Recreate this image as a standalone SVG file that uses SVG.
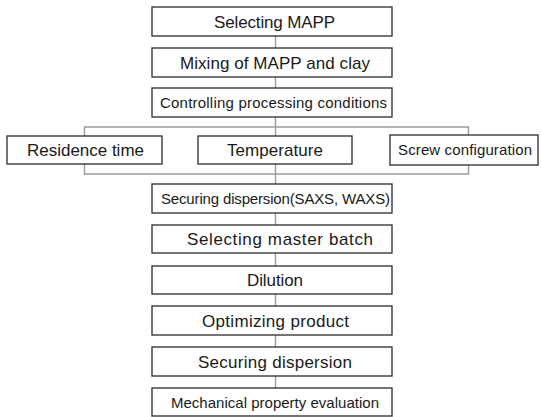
<svg xmlns="http://www.w3.org/2000/svg" width="542" height="417" viewBox="0 0 542 417">
  <style>
    .box { fill: #ffffff; stroke: #3a3a3a; stroke-width: 1.4; }
    .link { fill: none; stroke: #9a9a9a; stroke-width: 1.4; }
    .lbl { font-family: "Liberation Sans", Arial, sans-serif; fill: #1a1a1a; text-anchor: middle; }
    .big { font-size: 17px; }
    .small { font-size: 15px; }
  </style>
  <rect width="542" height="417" fill="#ffffff"/>

  <!-- connectors -->
  <g id="connectors">
    <line class="link" x1="275.5" y1="36" x2="275.5" y2="48"/>
    <line class="link" x1="275.5" y1="77" x2="275.5" y2="88"/>
    <line class="link" x1="275.5" y1="117" x2="275.5" y2="127"/>
    <!-- branch to the three process conditions -->
    <polyline class="link" points="84.5,136 84.5,127 468.5,127 468.5,136"/>
    <line class="link" x1="275.5" y1="127" x2="275.5" y2="136"/>
    <!-- merge back -->
    <polyline class="link" points="84.5,164 84.5,174 468.5,174 468.5,164"/>
    <line class="link" x1="275.5" y1="164" x2="275.5" y2="184"/>
    <line class="link" x1="275.5" y1="213" x2="275.5" y2="225"/>
    <line class="link" x1="275.5" y1="253" x2="275.5" y2="266"/>
    <line class="link" x1="275.5" y1="294" x2="275.5" y2="306"/>
    <line class="link" x1="275.5" y1="335" x2="275.5" y2="347"/>
    <line class="link" x1="275.5" y1="376" x2="275.5" y2="388"/>
  </g>

  <g id="n-selecting-mapp">
    <rect class="box" x="152" y="7" width="240" height="29"/>
    <text class="lbl big" x="274.5" y="27.5" textLength="121" lengthAdjust="spacing">Selecting MAPP</text>
  </g>
  <g id="n-mixing">
    <rect class="box" x="152" y="48" width="240" height="29"/>
    <text class="lbl big" x="275" y="68.5" textLength="190" lengthAdjust="spacing">Mixing of MAPP and clay</text>
  </g>
  <g id="n-controlling">
    <rect class="box" x="152" y="88" width="240" height="29"/>
    <text class="lbl small" x="273.5" y="108" textLength="227" lengthAdjust="spacing">Controlling processing conditions</text>
  </g>
  <g id="n-residence">
    <rect class="box" x="7" y="136" width="155" height="28"/>
    <text class="lbl big" x="85.5" y="156" textLength="117" lengthAdjust="spacing">Residence time</text>
  </g>
  <g id="n-temperature">
    <rect class="box" x="198" y="136" width="154" height="28"/>
    <text class="lbl big" x="275" y="156" textLength="96" lengthAdjust="spacing">Temperature</text>
  </g>
  <g id="n-screw">
    <rect class="box" x="390" y="135" width="148" height="30"/>
    <text class="lbl small" x="465" y="155" textLength="134" lengthAdjust="spacing">Screw configuration</text>
  </g>
  <g id="n-saxs">
    <rect class="box" x="152" y="184" width="240" height="29"/>
    <text class="lbl small" x="275.5" y="204" textLength="229" lengthAdjust="spacing">Securing dispersion(SAXS, WAXS)</text>
  </g>
  <g id="n-master-batch">
    <rect class="box" x="152" y="225" width="240" height="28"/>
    <text class="lbl big" x="280" y="245" textLength="186" lengthAdjust="spacing">Selecting master batch</text>
  </g>
  <g id="n-dilution">
    <rect class="box" x="152" y="266" width="240" height="28"/>
    <text class="lbl big" x="275" y="286" textLength="56" lengthAdjust="spacing">Dilution</text>
  </g>
  <g id="n-optimizing">
    <rect class="box" x="152" y="306" width="240" height="29"/>
    <text class="lbl big" x="275.5" y="326.5" textLength="147" lengthAdjust="spacing">Optimizing product</text>
  </g>
  <g id="n-securing">
    <rect class="box" x="152" y="347" width="240" height="29"/>
    <text class="lbl big" x="275" y="367.5" textLength="154" lengthAdjust="spacing">Securing dispersion</text>
  </g>
  <g id="n-mechanical">
    <rect class="box" x="152" y="388" width="240" height="28"/>
    <text class="lbl small" x="275" y="408" textLength="208" lengthAdjust="spacing">Mechanical property evaluation</text>
  </g>
</svg>
